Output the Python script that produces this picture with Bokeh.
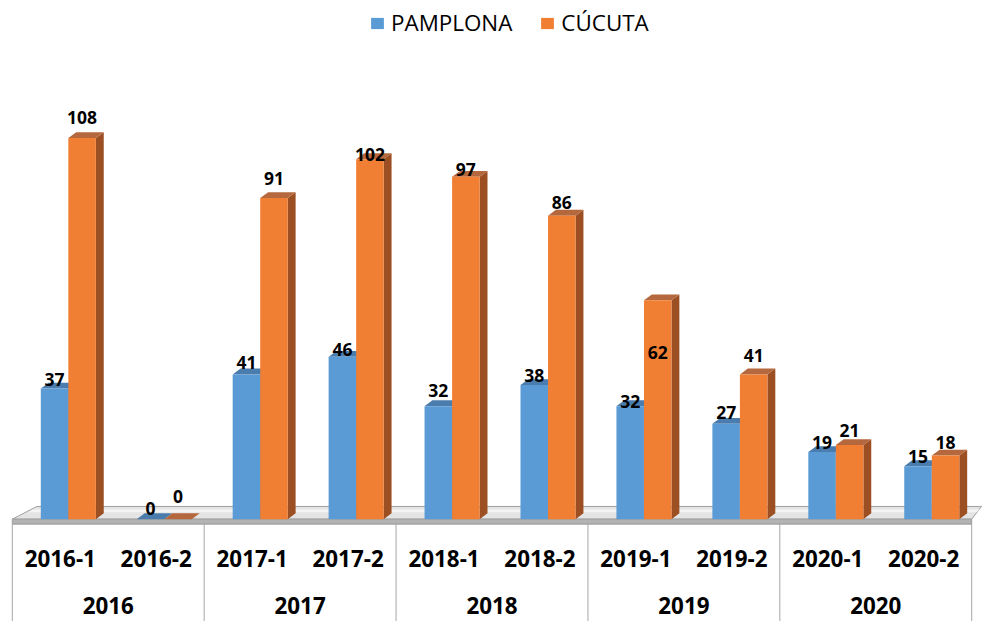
from bokeh.plotting import figure
from bokeh.models import Range1d, Legend, LegendItem, ColumnDataSource
from bokeh.core.properties import value
from bokeh.embed import file_html
from bokeh.resources import INLINE

# ---------------- data ----------------
CATEGORIES = ["2016-1", "2016-2", "2017-1", "2017-2", "2018-1",
              "2018-2", "2019-1", "2019-2", "2020-1", "2020-2"]
YEARS = ["2016", "2017", "2018", "2019", "2020"]
PAMPLONA = [37, 0, 41, 46, 32, 38, 32, 27, 19, 15]
CUCUTA = [108, 0, 91, 102, 97, 86, 62, 41, 21, 18]
SERIES = ["PAMPLONA", "CÚCUTA"]

# ---------------- style / geometry (design pixels of a 999x637 layout) ----------------
W, H = 983, 621
REF_W, REF_H = 999, 637
SX, SY = W / REF_W, H / REF_H
X_PX = 97.5          # design pixels per category
X_ORIGIN = 12        # design x of category axis start
Y_PX = 3.62          # design pixels per value unit
Y_BASE = 532         # design y of value 0
DEPTH_X = 8 / X_PX   # 3-D depth offset
DEPTH_Y = 6 / Y_PX
BAR_W = 0.287
BLUE_OFF = 0.297
ORANGE_OFF = BLUE_OFF + BAR_W
FONT = "Open Sans"

BLUE_FRONT, BLUE_TOP, BLUE_SIDE = "#5b9bd5", "#4a7cad", "#3c6894"
ORANGE_FRONT, ORANGE_TOP, ORANGE_SIDE = "#f17f33", "#b5683d", "#9c4f22"

# label centre height above bar top (design px), per bar (style)
BLUE_LIFT = [9, 11, 12, 7, 16, 10, 5, 12, 10, 10]
ORANGE_LIFT = [21, 23, 20, 5, 8, 13, -54, 19, 15, 13]


def dy(page_y):
    return (Y_BASE - page_y) / Y_PX


def dx(page_x):
    return (page_x - X_ORIGIN) / X_PX


def fs(px):
    return f"{px * SY:.1f}px"


p = figure(width=W, height=H, output_backend="svg", toolbar_location=None,
           x_range=Range1d(dx(0), dx(REF_W)),
           y_range=Range1d(dy(REF_H), dy(0)),
           min_border=0, min_border_left=0, min_border_right=0,
           min_border_top=0, min_border_bottom=0)
p.axis.visible = False
p.grid.visible = False
p.outline_line_color = None
p.background_fill_color = "white"
p.border_fill_color = "white"

n = len(CATEGORIES)

# ---------------- floor ----------------
fy_back = dy(519)
fy_front = 0.0
fy_under = dy(537)
p.patches([[0, dx(37), dx(997), n]], [[fy_front, fy_back, fy_back, fy_front]],
          fill_color="#e4e4e4", line_color="#9e9e9e", line_width=1)
p.patches([[dx(33), dx(995), dx(992), dx(28)]],
          [[dy(522), dy(522), dy(525), dy(525)]],
          fill_color="#f4f4f4", line_color=None)
p.patches([[0, n, n, 0]], [[fy_front, fy_front, fy_under, fy_under]],
          fill_color="#b3b3b3", line_color="#9e9e9e", line_width=1)

# ---------------- table lines ----------------
p.segment(x0=[0], y0=[fy_under], x1=[n], y1=[fy_under], line_color="#a6a6a6", line_width=1)
bounds = list(range(0, n + 1, 2))
p.segment(x0=bounds, y0=[fy_under] * len(bounds), x1=bounds,
          y1=[dy(REF_H)] * len(bounds), line_color="#a6a6a6", line_width=1)


# ---------------- bars ----------------
def draw_series(vals, off, front, top, side):
    left = [i + off for i in range(n)]
    right = [l + BAR_W for l in left]
    side_xs = [[r, r + DEPTH_X, r + DEPTH_X, r] for r in right]
    side_ys = [[0, DEPTH_Y, v + DEPTH_Y, v] for v in vals]
    top_xs = [[l, l + DEPTH_X, r + DEPTH_X, r] for l, r in zip(left, right)]
    top_ys = [[v, v + DEPTH_Y, v + DEPTH_Y, v] for v in vals]
    p.patches(side_xs, side_ys, fill_color=side, line_color=None)
    p.patches(top_xs, top_ys, fill_color=top, line_color=None)
    src = ColumnDataSource(dict(left=left, right=right, top=vals, bottom=[0] * n))
    return p.quad(left="left", right="right", top="top", bottom="bottom", source=src,
                  fill_color=front, line_color=None)


r_blue = draw_series(PAMPLONA, BLUE_OFF, BLUE_FRONT, BLUE_TOP, BLUE_SIDE)
r_orange = draw_series(CUCUTA, ORANGE_OFF, ORANGE_FRONT, ORANGE_TOP, ORANGE_SIDE)


# ---------------- data labels ----------------
def draw_labels(vals, off, lifts):
    xs = [i + off + BAR_W / 2 for i in range(n)]
    ys = [v + l / Y_PX for v, l in zip(vals, lifts)]
    p.text(x=xs, y=ys, text=[str(v) for v in vals], text_font=value(FONT),
           text_font_style="bold", text_font_size=fs(18), text_color="black",
           text_align="center", text_baseline="middle")


draw_labels(PAMPLONA, BLUE_OFF, BLUE_LIFT)
draw_labels(CUCUTA, ORANGE_OFF, ORANGE_LIFT)

# ---------------- category axis ----------------
p.text(x=[i + 0.5 for i in range(n)], y=[dy(572)] * n, text=CATEGORIES,
       text_font=value(FONT), text_font_style="bold", text_font_size=fs(23),
       text_color="black", text_align="center", text_baseline="middle")
p.text(x=[2 * k + 1 for k in range(len(YEARS))], y=[dy(621)] * len(YEARS), text=YEARS,
       text_font=value(FONT), text_font_style="bold", text_font_size=fs(23),
       text_color="black", text_align="center", text_baseline="middle")

# ---------------- legend ----------------
legend = Legend(items=[LegendItem(label=SERIES[0], renderers=[r_blue]),
                       LegendItem(label=SERIES[1], renderers=[r_orange])],
                orientation="horizontal", location=(round(375 * SX), H - 38),
                border_line_color=None, background_fill_alpha=0, padding=0, margin=0,
                glyph_width=16, glyph_height=14, label_standoff=6, spacing=27,
                label_text_font=FONT, label_text_font_size=fs(23), label_height=22,
                label_text_color="black")
p.add_layout(legend)

open("out.html", "w").write(file_html(p, INLINE))
